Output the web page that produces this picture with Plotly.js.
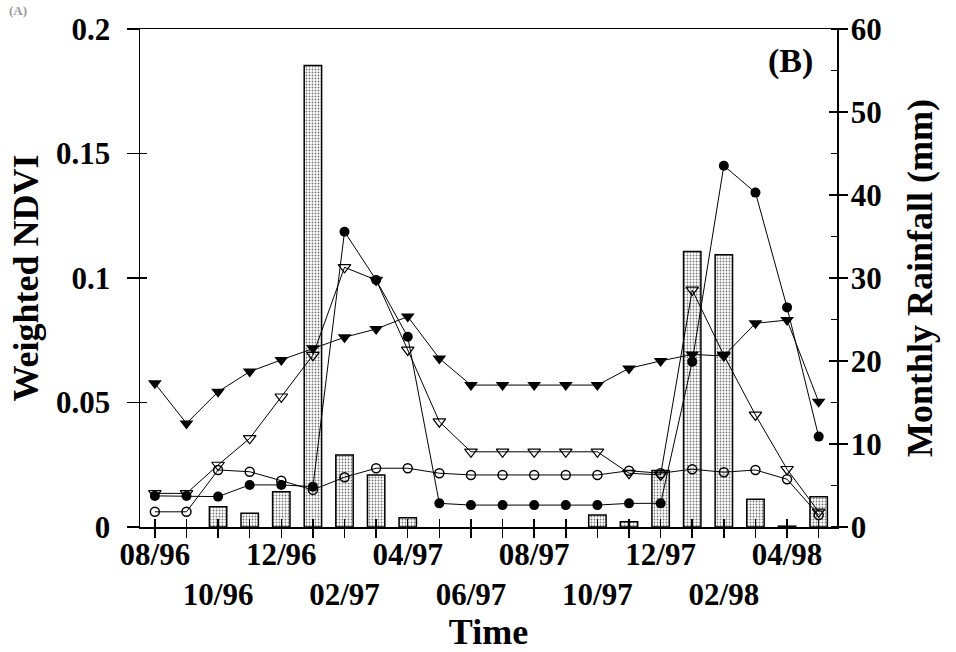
<!DOCTYPE html>
<html>
<head>
<meta charset="utf-8">
<script src="https://cdn.plot.ly/plotly-3.0.1.min.js"></script>
<style>html,body{margin:0;padding:0;background:#fff;}#chart{width:956px;height:652px;}</style>
</head>
<body>
<div id="chart"></div>
<script>
// Months (x categories) and tick labels
const months = ['08/96','09/96','10/96','11/96','12/96','01/97','02/97','03/97','04/97','05/97','06/97','07/97',
                '08/97','09/97','10/97','11/97','12/97','01/98','02/98','03/98','04/98','05/98'];
const labelMonths = ['08/96','10/96','12/96','02/97','04/97','06/97','08/97','10/97','12/97','02/98','04/98'];

// Weighted NDVI series (left axis)
const ndviFilledTri = [0.0577,0.0416,0.0543,0.0624,0.0671,0.0718,0.0762,0.0795,0.0845,0.0677,0.0570,0.0570,
                       0.0570,0.0570,0.0570,0.0637,0.0667,0.0693,0.0687,0.0818,0.0831,0.0503];
const ndviOpenTri   = [0.0135,0.0135,0.0249,0.0356,0.0523,0.0690,0.1043,0.0992,0.0711,0.0423,0.0302,0.0302,
                       0.0302,0.0302,0.0302,0.0216,0.0209,0.0952,0.0690,0.0450,0.0232,0.0061];
const ndviFilledCirc= [0.0125,0.0125,0.0122,0.0169,0.0169,0.0162,0.1186,0.0992,0.0764,0.0095,0.0088,0.0088,
                       0.0088,0.0088,0.0088,0.0095,0.0095,0.0664,0.1451,0.1343,0.0882,0.0363];
const ndviOpenCirc  = [0.0061,0.0061,0.0229,0.0222,0.0186,0.0149,0.0200,0.0236,0.0236,0.0216,0.0209,0.0209,
                       0.0209,0.0209,0.0209,0.0226,0.0216,0.0232,0.0220,0.0229,0.0192,0.0048];

// Monthly rainfall (mm), right axis
const rainfall = [0,0,2.45,1.65,4.25,55.6,8.67,6.27,1.12,0,0,0,0,0,1.45,0.64,6.8,33.2,32.8,3.33,0.1,3.65];

const ndviTicks = [0,0.05,0.1,0.15,0.2];
const rainTicks = [0,10,20,30,40,50,60];

const FONT = 'Liberation Serif, Times New Roman, serif';
const tickText = months.map((m, i) => {
  const k = labelMonths.indexOf(m);
  if (k < 0) return '';
  return (k % 2 === 1) ? '<br>' + m : m;
});
const idx = months.map((m, i) => i);

const lineStyle = {color: 'black', width: 1};
const traces = [
  {type: 'bar', x: months, y: rainfall, xaxis: 'x', yaxis: 'y', width: 0.55,
   marker: {color: 'white', line: {color: 'black', width: rainfall.map(v => v > 0 ? 1.5 : 0)},
            pattern: {shape: '.', fgcolor: '#777', bgcolor: 'white', size: 3, solidity: 0.3}},
   showlegend: false, hoverinfo: 'skip'},
  {type: 'scatter', mode: 'lines+markers', x: months, y: ndviOpenCirc, xaxis: 'x', yaxis: 'y2', line: lineStyle,
   marker: {symbol: 'circle-open', size: 9, color: 'black', line: {width: 1.5}}, showlegend: false},
  {type: 'scatter', mode: 'lines+markers', x: months, y: ndviFilledCirc, xaxis: 'x', yaxis: 'y2', line: lineStyle,
   marker: {symbol: 'circle', size: 10, color: 'black'}, showlegend: false},
  {type: 'scatter', mode: 'lines+markers', x: months, y: ndviOpenTri, xaxis: 'x', yaxis: 'y2', line: lineStyle,
   marker: {symbol: 'triangle-down-open', size: 11, color: 'black', line: {width: 1.2}}, showlegend: false},
  {type: 'scatter', mode: 'lines+markers', x: months, y: ndviFilledTri, xaxis: 'x', yaxis: 'y2', line: lineStyle,
   marker: {symbol: 'triangle-down', size: 12, color: 'black'}, showlegend: false},
  // empty helpers so that the inside-tick overlay axes are drawn
  {type: 'scatter', x: [], y: [], xaxis: 'x2', yaxis: 'y3', showlegend: false, hoverinfo: 'skip'},
  {type: 'scatter', x: [], y: [], xaxis: 'x2', yaxis: 'y4', showlegend: false, hoverinfo: 'skip'}
];

const xr = [-0.47, 21.58];
const tickFont = {family: FONT, size: 31, color: 'black', weight: 'bold'};
const titleFont = {family: FONT, size: 36, color: 'black', weight: 'bold'};

const layout = {
  width: 956, height: 652,
  margin: {l: 140, r: 119, t: 29, b: 125, pad: 0},
  paper_bgcolor: 'white', plot_bgcolor: 'white',
  barmode: 'overlay',
  xaxis: {type: 'category', range: xr, tickmode: 'array', tickvals: months, ticktext: tickText, tickangle: 0,
          ticks: 'outside', ticklen: 9, tickwidth: 1.5, tickcolor: 'black', ticklabelstandoff: -10,
          showline: true, linecolor: 'black', linewidth: 1.5, mirror: true,
          showgrid: false, zeroline: false, tickfont: tickFont, automargin: false,
          title: {text: 'Time', font: titleFont, standoff: 4}},
  xaxis2: {overlaying: 'x', anchor: 'y', range: xr, tickmode: 'array', tickvals: idx,
           ticks: 'inside', ticklen: 8, tickwidth: 1.5, tickcolor: 'black',
           showticklabels: false, showline: false, showgrid: false, zeroline: false},
  yaxis: {side: 'right', range: [0, 60], tickmode: 'array', tickvals: rainTicks,
          ticks: 'outside', ticklen: 9, tickwidth: 1.5, tickcolor: 'black', ticklabelstandoff: -3,
          minor: {tick0: 0, dtick: 5, ticks: 'inside', ticklen: 6, tickwidth: 1.5, tickcolor: 'black'},
          showline: true, linecolor: 'black', linewidth: 1.5, showgrid: false, zeroline: false,
          tickfont: tickFont, automargin: false,
          title: {text: 'Monthly Rainfall (mm)', font: titleFont, standoff: 26}},
  yaxis2: {overlaying: 'y', side: 'left', range: [0, 0.2], tickmode: 'array', tickvals: ndviTicks,
           ticks: 'outside', ticklen: 12, tickwidth: 1.5, tickcolor: 'black', ticklabelstandoff: 10,
           showline: true, linecolor: 'black', linewidth: 1.5, showgrid: false, zeroline: false,
           tickfont: tickFont, automargin: false,
           title: {text: 'Weighted NDVI', font: titleFont, standoff: 6}},
  yaxis3: {overlaying: 'y', side: 'right', anchor: 'x', range: [0, 60], tickmode: 'array', tickvals: rainTicks,
           ticks: 'inside', ticklen: 8, tickwidth: 1.5, tickcolor: 'black',
           showticklabels: false, showline: false, showgrid: false, zeroline: false},
  yaxis4: {overlaying: 'y', side: 'left', anchor: 'x', range: [0, 0.2], tickmode: 'array', tickvals: ndviTicks,
           ticks: 'inside', ticklen: 7, tickwidth: 1.5, tickcolor: 'black',
           showticklabels: false, showline: false, showgrid: false, zeroline: false},
  annotations: [
    {text: '(B)', xref: 'paper', yref: 'paper', x: 0.934, y: 0.936, xanchor: 'center', yanchor: 'middle',
     showarrow: false, font: {family: FONT, size: 34, color: 'black', weight: 'bold'}},
    {text: '(A)', xref: 'paper', yref: 'paper', x: -0.175, y: 1.038, xanchor: 'center', yanchor: 'middle',
     showarrow: false, font: {family: FONT, size: 13, color: '#9a9a9a', weight: 'bold'}}
  ]
};

Plotly.newPlot('chart', traces, layout, {staticPlot: true, displayModeBar: false});
</script>
</body>
</html>
